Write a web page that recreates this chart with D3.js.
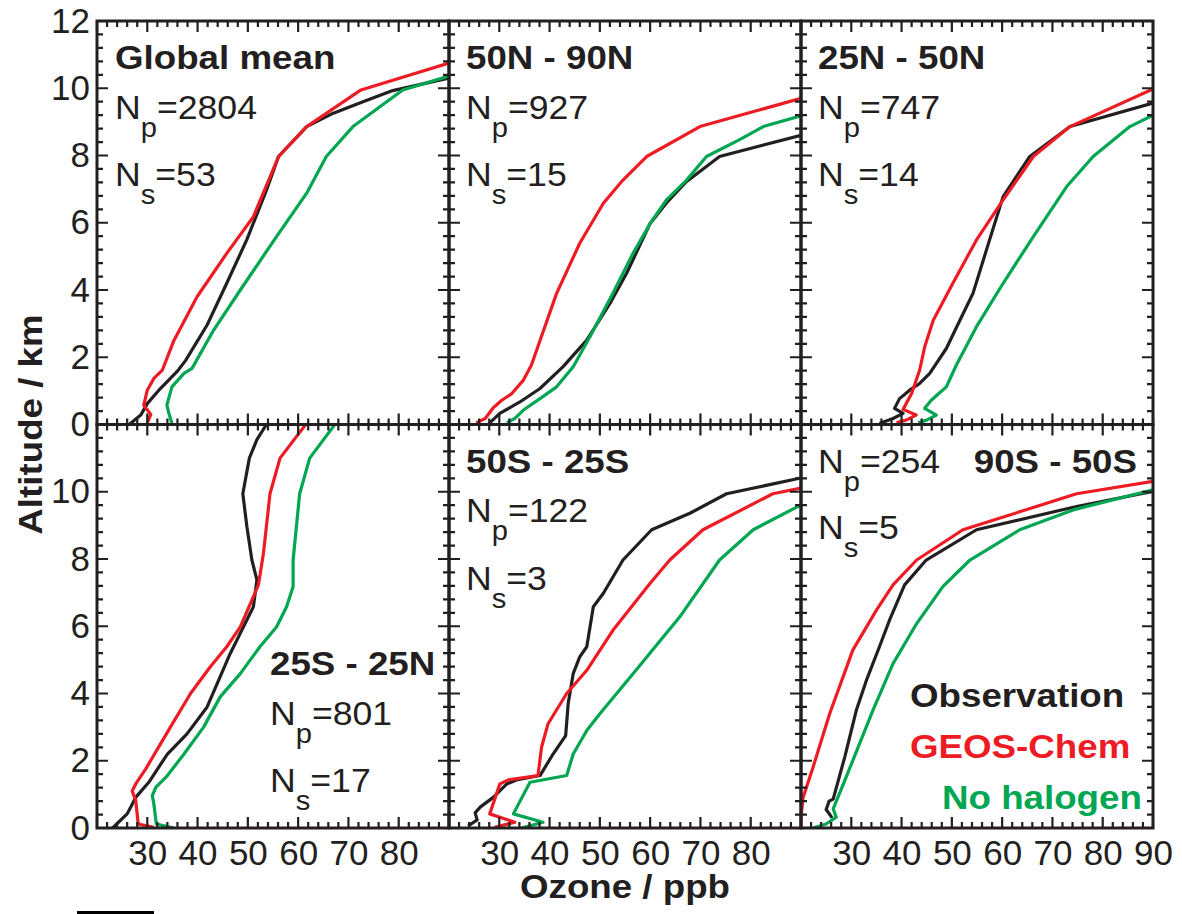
<!DOCTYPE html>
<html>
<head>
<meta charset="utf-8">
<script src="https://cdn.jsdelivr.net/npm/d3@7"></script>
<style>
  body { margin: 0; background: #fff; }
  svg text { font-family: "Liberation Sans", Arial, Helvetica, sans-serif; fill: #231f20; }
</style>
</head>
<body>
<div id="chart"></div>
<script>
// Ozone profiles: [ozone ppb, altitude km]
const globalObs = [[26.4,0],[28.7,0.28],[30,0.62],[32.6,1.07],[35.9,1.57],[37.6,1.9],[41.9,2.96],[45.8,4.2],[49.8,5.5],[53.7,6.97],[56.1,7.97],[61.7,8.86],[67,9.26],[72.9,9.6],[78.8,9.93],[90,10.3]];
const globalGeos = [[30,0.05],[30.7,0.3],[29.3,0.57],[30,1.02],[31.3,1.37],[33,1.62],[35.3,2.5],[39.9,3.8],[45.8,5.09],[51.1,6.18],[56.1,7.97],[61.7,8.86],[72.5,9.95],[90,10.75]];
const globalNoHal = [[34.9,0.03],[34.3,0.33],[33.9,0.58],[34.9,1.12],[37.3,1.52],[38.9,1.67],[43.2,2.81],[48.5,4.0],[55.7,5.59],[61.7,6.88],[65.6,7.97],[70.9,8.86],[80.8,9.95],[90,10.36]];

const n50n90Obs = [[28.1,0.05],[30.1,0.33],[34.1,0.67],[38.1,1.07],[42.7,1.72],[47.4,2.51],[52,3.6],[55.3,4.49],[60,5.98],[63.2,6.58],[67.2,7.22],[73.8,7.97],[90,8.6]];
const n50n90Geos = [[25.4,0.05],[27.2,0.18],[28.8,0.5],[30.5,0.72],[32.5,0.92],[34.8,1.32],[36.4,1.77],[38.1,2.5],[41.4,3.9],[46,5.39],[50.7,6.58],[54.3,7.22],[59.3,7.97],[69.9,8.86],[90,9.7]];
const n50n90NoHal = [[31.5,0.05],[33.1,0.18],[34.8,0.43],[38.1,0.77],[41.4,1.12],[44.7,1.72],[48,2.6],[52.6,3.9],[56.6,5.09],[60,5.98],[63.2,6.67],[67.2,7.26],[71.2,7.97],[77.8,8.47],[82.5,8.86],[90,9.18]];

const n25n50Obs = [[35.6,0.03],[38.3,0.18],[40.3,0.33],[38.6,0.48],[39.6,0.77],[41.6,1.02],[43.6,1.22],[45.6,1.52],[48.9,2.26],[51.6,3.1],[54.2,3.9],[57.5,5.49],[60.2,6.78],[65.5,7.97],[73.5,8.86],[90,9.56]];
const n25n50Geos = [[39,0.05],[40.9,0.13],[42.9,0.28],[40.3,0.45],[42,0.92],[43.6,1.62],[44.6,2.31],[46.3,3.1],[50.2,4.2],[54.9,5.49],[60.2,6.68],[66.2,7.97],[73.5,8.86],[90,9.98]];
const n25n50NoHal = [[43.3,0.05],[45,0.13],[46.9,0.28],[44.6,0.48],[45.9,0.72],[48.9,1.12],[50.9,1.77],[54.9,2.91],[60.2,4.2],[66.2,5.59],[72.8,7.07],[78.1,7.97],[85.4,8.86],[90,9.2]];

const tropObs = [[23.1,0],[26,0.42],[27.7,0.91],[30.3,1.36],[34,2.2],[37.9,2.8],[41.9,3.6],[46.5,5.19],[51.1,6.58],[51.8,7.38],[50.8,7.97],[49.8,8.97],[49,9.94],[50.3,11],[51.8,11.55],[53.7,12]];
const tropGeos = [[31.3,0.02],[28.2,0.12],[27.7,0.82],[27,1.1],[27.7,1.31],[29.7,1.76],[34.6,3.0],[38.6,4.0],[42.5,4.79],[45.8,5.39],[48.5,5.98],[52.1,7.23],[53.1,8.17],[54.4,9.94],[56.4,11],[61.5,12]];
const tropNoHal = [[35.3,0],[31.8,0.12],[31.3,0.72],[31,0.96],[31.7,1.21],[34,1.56],[37.3,2.2],[41.2,3.0],[44.5,3.9],[48.5,4.59],[52.4,5.39],[55.7,5.98],[57.7,6.58],[59,7.18],[59,7.97],[60.3,9.94],[62.3,11],[67.3,12]];

const s50s25Obs = [[23.8,0.06],[25.6,0.24],[25.2,0.45],[26.2,0.62],[28.8,0.91],[31.5,1.31],[33.4,1.43],[38.1,1.56],[40.7,2.2],[43.2,2.75],[43.7,3.7],[44.7,4.59],[46,5.09],[47.4,5.39],[48.7,6.58],[50.7,6.98],[54.6,7.97],[60.3,8.87],[67.9,9.36],[75.2,9.94],[90,10.41]];
const s50s25Geos = [[29.1,0.02],[33.1,0.17],[28.1,0.42],[30.1,1.31],[31.8,1.43],[37.7,1.56],[38.4,2.4],[39.7,3.1],[43.4,4.0],[47.4,4.69],[52.6,5.88],[60,7.28],[63.9,7.97],[70.5,8.87],[84.4,9.94],[90,10.11]];
const s50s25NoHal = [[34.4,0],[38.7,0.17],[32.8,0.42],[36.1,1.36],[43.4,1.56],[44.7,2.2],[47.4,2.9],[50,3.4],[56.6,4.59],[65.9,6.28],[73.8,7.97],[80.5,8.87],[90,9.61]];

const s90s50Obs = [[26.2,0.3],[25,0.55],[25.6,0.8],[26.4,0.86],[28.7,2.11],[31,3.5],[33,4.39],[35.6,5.39],[37.6,6.18],[40.6,7.23],[44.9,7.97],[54.9,8.87],[74.8,9.56],[90,10.01]];
const s90s50Geos = [[19.9,0.15],[20.4,0.9],[22.4,1.81],[25.7,3.4],[30.3,5.29],[35,6.48],[38.3,7.23],[43,7.97],[52.2,8.87],[74.8,9.94],[90,10.31]];
const s90s50NoHal = [[22.4,0],[25,0.12],[27,0.32],[26.4,0.57],[28.7,1.41],[34.3,3.5],[38.3,4.89],[43,6.08],[48.2,7.18],[53.6,7.97],[63.5,8.87],[74.1,9.46],[90,10.06]];

const panelTitles = ["Global mean", "50N - 90N", "25N - 50N", "25S - 25N", "50S - 25S", "90S - 50S"];
const panelNp = [2804, 927, 747, 801, 122, 254];
const panelNs = [53, 15, 14, 17, 3, 5];
const seriesNames = ["Observation", "GEOS-Chem", "No halogen"];
const seriesColors = ["#231f20", "#ed1c24", "#00a651"];
const xTickLabels = [30, 40, 50, 60, 70, 80];
const xTickLabelsLast = [30, 40, 50, 60, 70, 80, 90];
const yTickLabelsTop = [0, 2, 4, 6, 8, 10, 12];
const yTickLabelsBottom = [0, 2, 4, 6, 8, 10];

const profiles = [
  [globalObs, globalGeos, globalNoHal],
  [n50n90Obs, n50n90Geos, n50n90NoHal],
  [n25n50Obs, n25n50Geos, n25n50NoHal],
  [tropObs, tropGeos, tropNoHal],
  [s50s25Obs, s50s25Geos, s50s25NoHal],
  [s90s50Obs, s90s50Geos, s90s50NoHal]
];

// text placement inside each panel (px from panel origin)
const labelPos = [
  { title: [18, 48, "start"], np: [18, 98], ns: [18, 165] },
  { title: [17, 48, "start"], np: [17, 98], ns: [17, 165] },
  { title: [17, 48, "start"], np: [17, 98], ns: [17, 165] },
  { title: [173, 250, "start"], np: [173, 300], ns: [173, 367] },
  { title: [17, 48, "start"], np: [17, 97], ns: [17, 165] },
  { title: [336, 48, "end"], np: [17, 48], ns: [17, 114] }
];

const width = 1182, height = 914;
const plotLeft = 97, plotTop = 21;
const pw = 352, ph = 403.5;
const stretch = 1.08;
const ink = "#231f20";

const svg = d3.select("#chart").append("svg")
  .attr("width", width)
  .attr("height", height);

const xScale = d3.scaleLinear().domain([20, 90]).range([0, pw]);
const yScale = d3.scaleLinear().domain([0, 12]).range([ph, 0]);

const xMajor = d3.range(20, 91, 10);
const xMinor = d3.range(20, 91, 2).filter(v => v % 10 !== 0);
const yMajor = d3.range(0, 13, 2);
const yMinor = d3.range(0, 12.01, 0.4).filter(v => Math.abs(v / 2 - Math.round(v / 2)) > 0.01);

const profileLine = d3.line().x(d => xScale(d[0])).y(d => yScale(d[1]));

// inward ticks on all four sides of a panel, as one path
function addTicks(g) {
  const tp = d3.path();
  [[xMajor, yMajor, 11], [xMinor, yMinor, 6]].forEach(([xv, yv, len]) => {
    xv.forEach(v => {
      const x = xScale(v);
      tp.moveTo(x, 0); tp.lineTo(x, len);
      tp.moveTo(x, ph); tp.lineTo(x, ph - len);
    });
    yv.forEach(v => {
      const y = yScale(v);
      tp.moveTo(0, y); tp.lineTo(len, y);
      tp.moveTo(pw, y); tp.lineTo(pw - len, y);
    });
  });
  g.append("path")
    .attr("d", tp.toString())
    .attr("fill", "none")
    .attr("stroke", ink)
    .attr("stroke-width", 2.2);
}

function countLabel(g, pos, sub, value) {
  const t = g.append("text")
    .attr("transform", `translate(${pos[0]},${pos[1]}) scale(${stretch},1)`)
    .style("font-size", "33px");
  t.append("tspan").text("N");
  t.append("tspan").attr("dy", 18).style("font-size", "27px").text(sub);
  t.append("tspan").attr("dy", -18).text("=" + value);
}

const panelGroups = [];

profiles.forEach((series, i) => {
  const col = i % 3, row = Math.floor(i / 3);
  const g = svg.append("g")
    .attr("transform", `translate(${plotLeft + col * pw},${plotTop + row * ph})`);
  panelGroups.push(g);

  g.append("clipPath").attr("id", "clip" + i)
    .append("rect").attr("width", pw).attr("height", ph);

  const curves = g.append("g").attr("clip-path", `url(#clip${i})`);
  series.forEach((d, k) => {
    curves.append("path")
      .datum(d)
      .attr("fill", "none")
      .attr("stroke", seriesColors[k])
      .attr("stroke-width", 3.2)
      .attr("stroke-linejoin", "round")
      .attr("d", profileLine);
  });

  // tick labels
  if (col === 0) {
    const yl = g.append("g")
      .call(d3.axisLeft(yScale).tickValues(row === 0 ? yTickLabelsTop : yTickLabelsBottom)
        .tickSize(0).tickPadding(7));
    yl.select(".domain").remove();
    yl.selectAll("text").style("font-size", "35px");
  }
  if (row === 1) {
    const xl = g.append("g").attr("transform", `translate(0,${ph})`)
      .call(d3.axisBottom(xScale).tickValues(col === 2 ? xTickLabelsLast : xTickLabels)
        .tickSize(0).tickPadding(12));
    xl.select(".domain").remove();
    xl.selectAll("text").style("font-size", "35px");
  }

  // panel annotations
  const p = labelPos[i];
  g.append("text")
    .attr("transform", `translate(${p.title[0]},${p.title[1]}) scale(${stretch},1)`)
    .attr("text-anchor", p.title[2])
    .style("font-size", "34px")
    .style("font-weight", "bold")
    .text(panelTitles[i]);
  countLabel(g, p.np, "p", panelNp[i]);
  countLabel(g, p.ns, "s", panelNs[i]);

  // legend in the last panel
  if (i === 5) {
    const legendPos = [[109, 282], [109, 333], [141, 384]];
    seriesNames.forEach((name, k) => {
      g.append("text")
        .attr("transform", `translate(${legendPos[k][0]},${legendPos[k][1]}) scale(${stretch},1)`)
        .style("font-size", "34px")
        .style("font-weight", "bold")
        .style("fill", seriesColors[k])
        .text(name);
    });
  }
});

// frames and ticks on top of everything
panelGroups.forEach(g => {
  addTicks(g);
  g.append("rect")
    .attr("width", pw).attr("height", ph)
    .attr("fill", "none")
    .attr("stroke", ink)
    .attr("stroke-width", 3);
});

// axis titles
svg.append("text")
  .attr("transform", `translate(${plotLeft + 1.5 * pw},898) scale(${stretch},1)`)
  .attr("text-anchor", "middle")
  .style("font-size", "34px")
  .style("font-weight", "bold")
  .text("Ozone / ppb");

svg.append("text")
  .attr("transform", `translate(42,${plotTop + ph}) rotate(-90) scale(${stretch},1)`)
  .attr("text-anchor", "middle")
  .style("font-size", "34px")
  .style("font-weight", "bold")
  .text("Altitude / km");

// small bar left under the figure
svg.append("rect")
  .attr("x", 77).attr("y", 911)
  .attr("width", 77).attr("height", 3)
  .attr("fill", "#000");
</script>
</body>
</html>
